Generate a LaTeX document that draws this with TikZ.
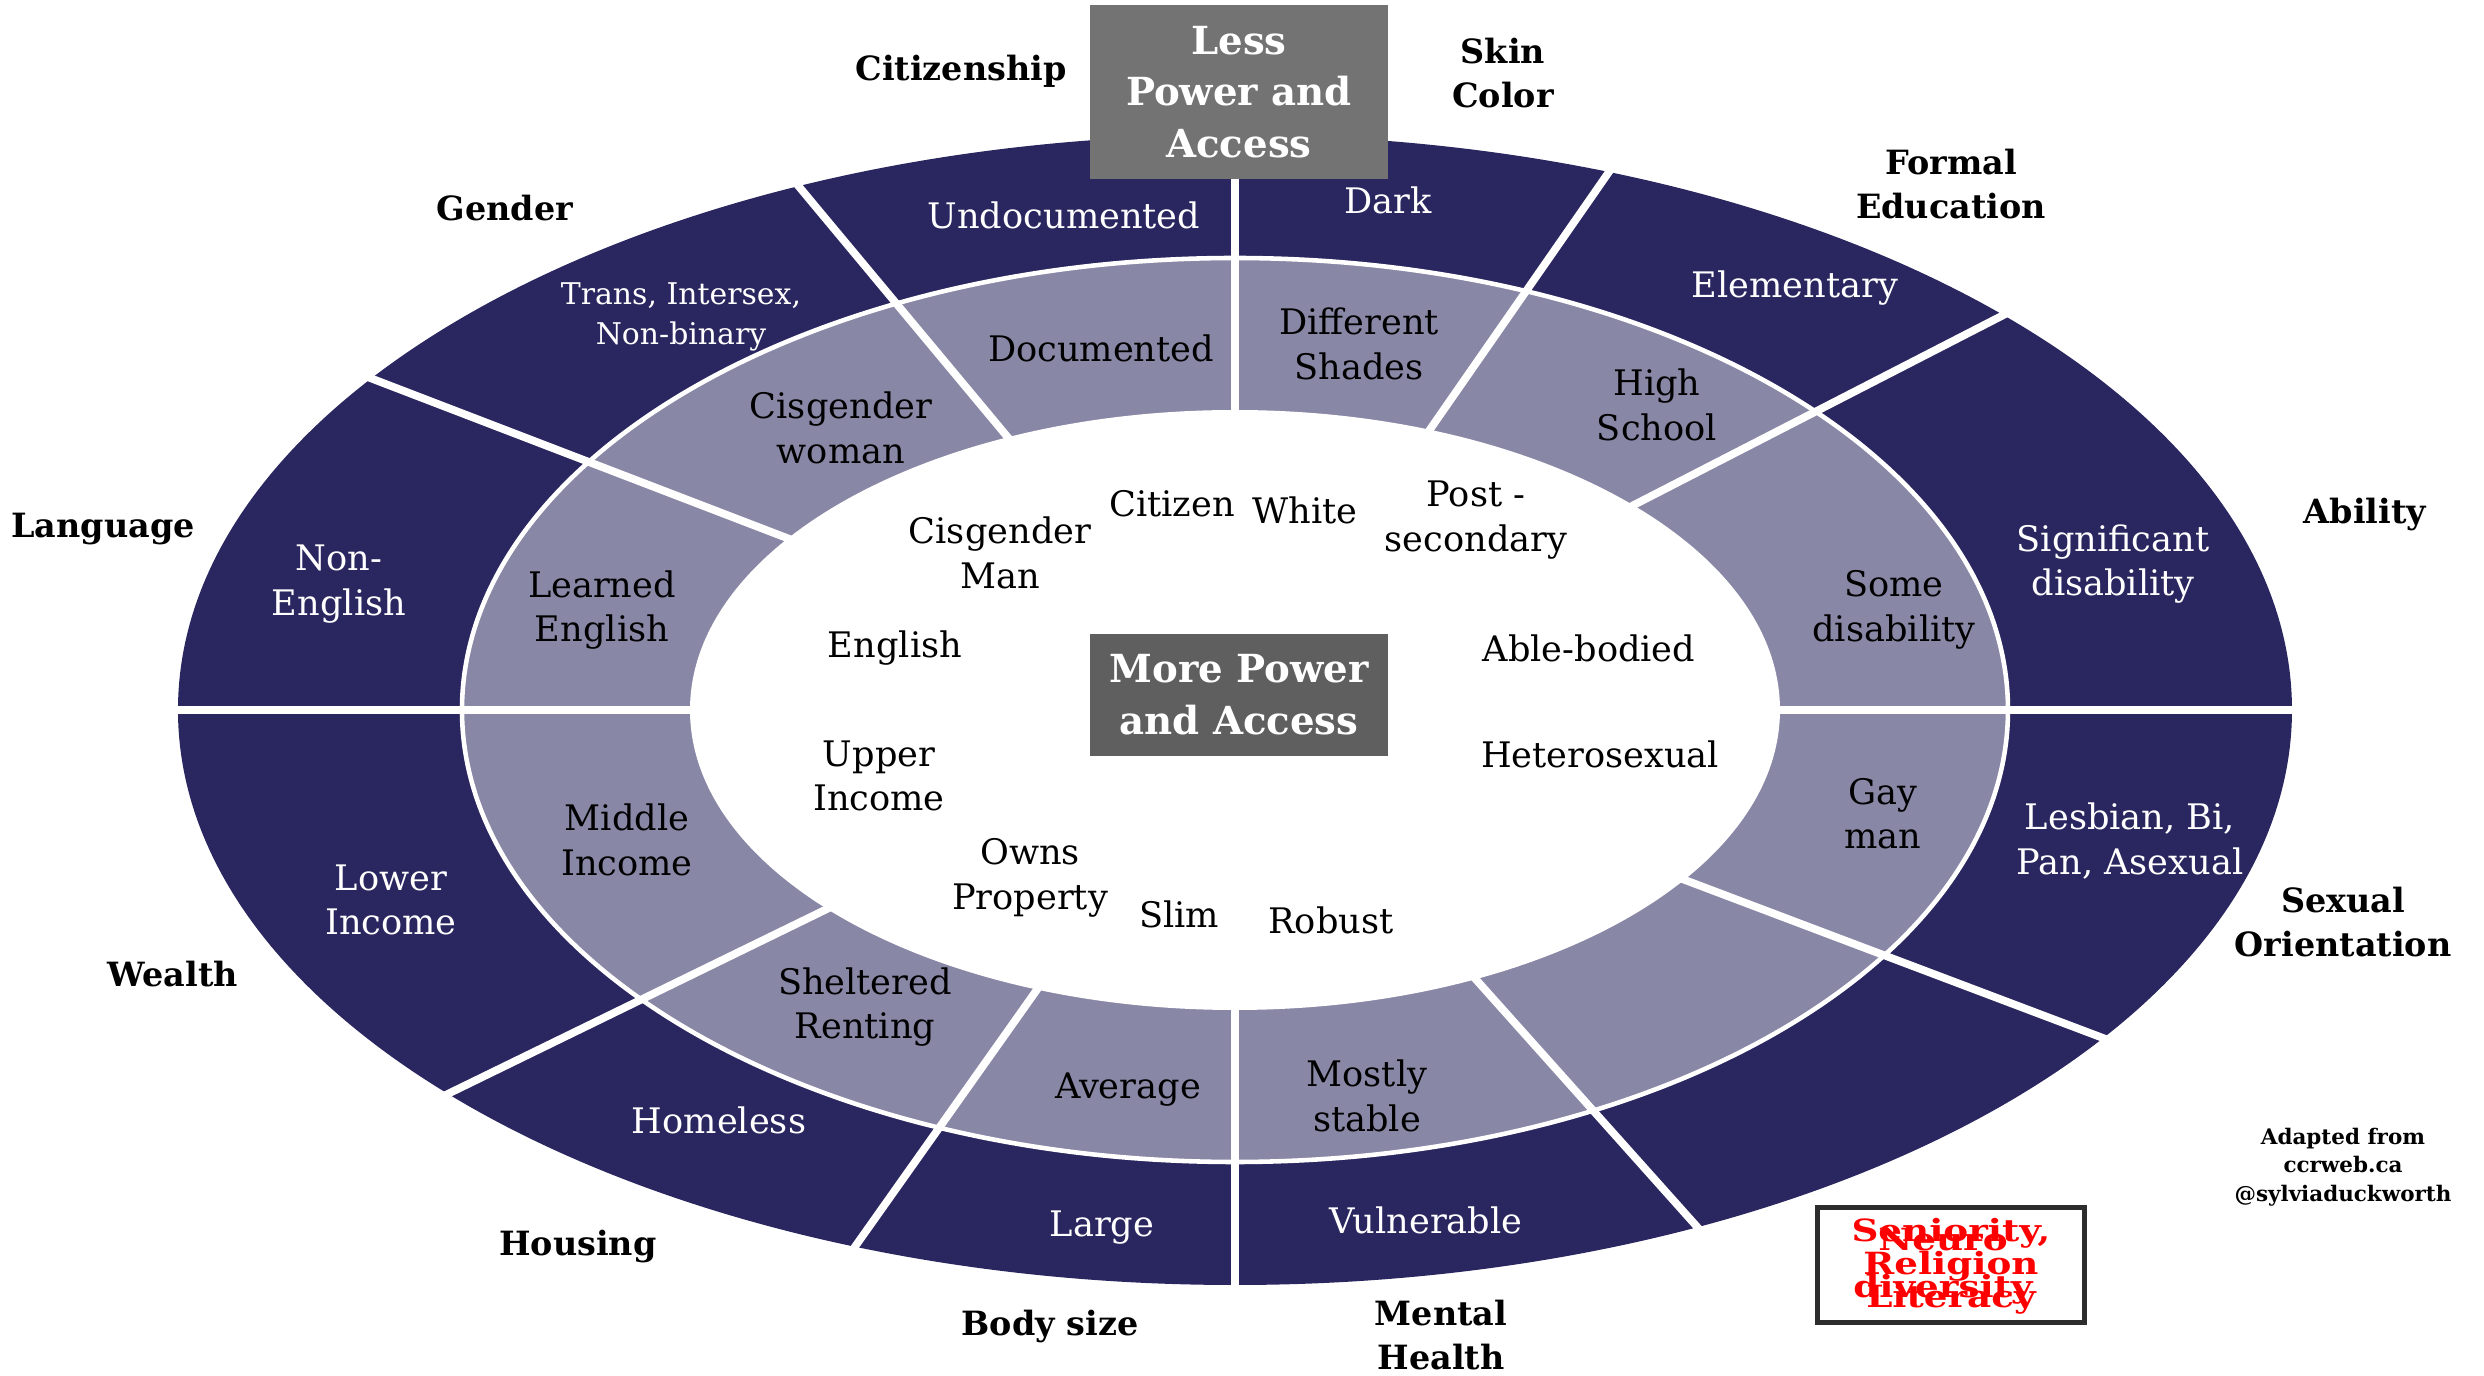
\documentclass[tikz,border=0pt]{standalone}
\usepackage{fontspec}
\setmainfont{DejaVu Serif}
\usepackage{xcolor}
\definecolor{ringdark}{RGB}{42,38,95}
\definecolor{ringlight}{RGB}{137,135,166}
\definecolor{boxgray}{RGB}{115,115,115}
\definecolor{boxdark}{RGB}{95,95,95}
\definecolor{framegray}{RGB}{45,45,45}

\begin{document}
\begin{tikzpicture}[
    x=0.01cm, y=0.01cm,
    outertxt/.style={text=white, align=center, font=\fontsize{10}{12.6}\selectfont},
    midtxt/.style={text=black, align=center, font=\fontsize{10}{12.6}\selectfont},
    coretxt/.style={text=black, align=center, font=\fontsize{10}{12.6}\selectfont},
    category/.style={text=black, align=center, font=\bfseries\fontsize{9.5}{12.6}\selectfont},
    powerbox/.style={text=white, align=center, inner sep=0pt, minimum width=2.98cm, font=\bfseries\fontsize{11}{14.7}\selectfont},
    sepline/.style={white, line width=2.2pt},
    redtxt/.style={text=red, align=center, font=\bfseries\fontsize{10.6}{7.2}\selectfont}
]
\useasboundingbox (-1235,-666) rectangle (1249,710);

% Rings
\fill[ringdark] (0,0) ellipse [x radius=1057, y radius=575];
\filldraw[fill=ringlight, draw=white, line width=1.3pt] (0,0) ellipse [x radius=773, y radius=452];
\fill[white] (0,0) ellipse [x radius=545, y radius=300];

% Spokes between the categories
\begin{scope}
    \clip (0,0) ellipse [x radius=1060, y radius=578];
    \foreach \a in {0, 27.2, 55.2, 90, 129.8, 159, 180, 206, 234.7, 270, 311.8, 339.3}
        \draw[sepline] (0,0) -- (\a:1300);
\end{scope}

% Outer ring: less power
\node[outertxt] (undoc) at (-171,495) {Undocumented};
\node[outertxt] (dark) at (153,510) {Dark};
\node[outertxt] (elem) at (560,422) {Elementary};
\node[outertxt] (sigdis) at (878,146) {Significant\\disability};
\node[outertxt] (lgbt) at (895,-131) {Lesbian, Bi,\\Pan, Asexual};
\node[outertxt] (vuln) at (191,-510) {Vulnerable};
\node[outertxt] (large) at (-133,-518) {Large};
\node[outertxt] (homeless) at (-516,-410) {Homeless};
\node[outertxt] (lowinc) at (-844,-190) {Lower\\Income};
\node[outertxt] (noneng) at (-896,126) {Non-\\English};
\node[outertxt, font=\fontsize{8.5}{11.3}\selectfont] (trans) at (-554,393) {Trans, Intersex,\\Non-binary};

% Middle ring
\node[midtxt] (doc) at (-134,362) {Documented};
\node[midtxt] (shades) at (124,366) {Different\\Shades};
\node[midtxt] (high) at (422,305) {High\\School};
\node[midtxt] (somedis) at (659,100) {Some\\disability};
\node[midtxt] (gay) at (648,-104) {Gay\\man};
\node[midtxt] (stable) at (132,-386) {Mostly\\stable};
\node[midtxt] (avg) at (-107,-380) {Average};
\node[midtxt] (shelter) at (-370,-297) {Sheltered\\Renting};
\node[midtxt] (midinc) at (-608,-130) {Middle\\Income};
\node[midtxt] (learned) at (-633,100) {Learned\\English};
\node[midtxt] (ciswoman) at (-394,282) {Cisgender\\woman};

% Core: more power
\node[coretxt] (citizen) at (-63,206) {Citizen};
\node[coretxt] (white) at (70,200) {White};
\node[coretxt] (postsec) at (241,190) {Post -\\secondary};
\node[coretxt] (cisman) at (-235,157) {Cisgender\\Man};
\node[coretxt] (english) at (-340,62) {English};
\node[coretxt] (able) at (354,62) {Able-bodied};
\node[coretxt] (upinc) at (-356,-66) {Upper\\Income};
\node[coretxt] (hetero) at (365,-44) {Heterosexual};
\node[coretxt] (owns) at (-205,-168) {Owns\\Property};
\node[coretxt] (slim) at (-56,-204) {Slim};
\node[coretxt] (robust) at (96,-210) {Robust};

% Category names
\node[category] (citizenship) at (-274,639) {Citizenship};
\node[category] (skin) at (268,637) {Skin\\Color};
\node[category] (education) at (716,526) {Formal\\Education};
\node[category] (ability) at (1130,195) {Ability};
\node[category] (sexual) at (1108,-212) {Sexual\\Orientation};
\node[category] (mental) at (206,-625) {Mental\\Health};
\node[category] (body) at (-185,-617) {Body size};
\node[category] (housing) at (-657,-537) {Housing};
\node[category] (wealth) at (-1062,-264) {Wealth};
\node[category] (language) at (-1132,181) {Language};
\node[category] (gender) at (-730,502) {Gender};

% Power boxes
\node[powerbox, fill=boxgray, minimum height=1.74cm] (less) at (4,618) {Less\\Power and\\Access};
\node[powerbox, fill=boxdark, minimum height=1.21cm] (more) at (4,15) {More Power\\and Access};

% Credit
\node[align=center, font=\bfseries\fontsize{6.1}{8.1}\selectfont] (credit) at (1108,-457) {Adapted from\\ccrweb.ca\\@sylviaduckworth};

% Box with the other categories (two text boxes piled up)
\node[draw=framegray, line width=1.4pt, minimum width=2.66cm, minimum height=1.15cm] (other) at (716,-555) {};
\node[redtxt, yscale=0.82, transform shape] (otherA) at (716,-556) {Seniority,\\Religion\\Literacy};
\node[redtxt, yscale=0.82, transform shape] (otherB) at (708,-556) {Neuro\\\\diversity};

\end{tikzpicture}
\end{document}
